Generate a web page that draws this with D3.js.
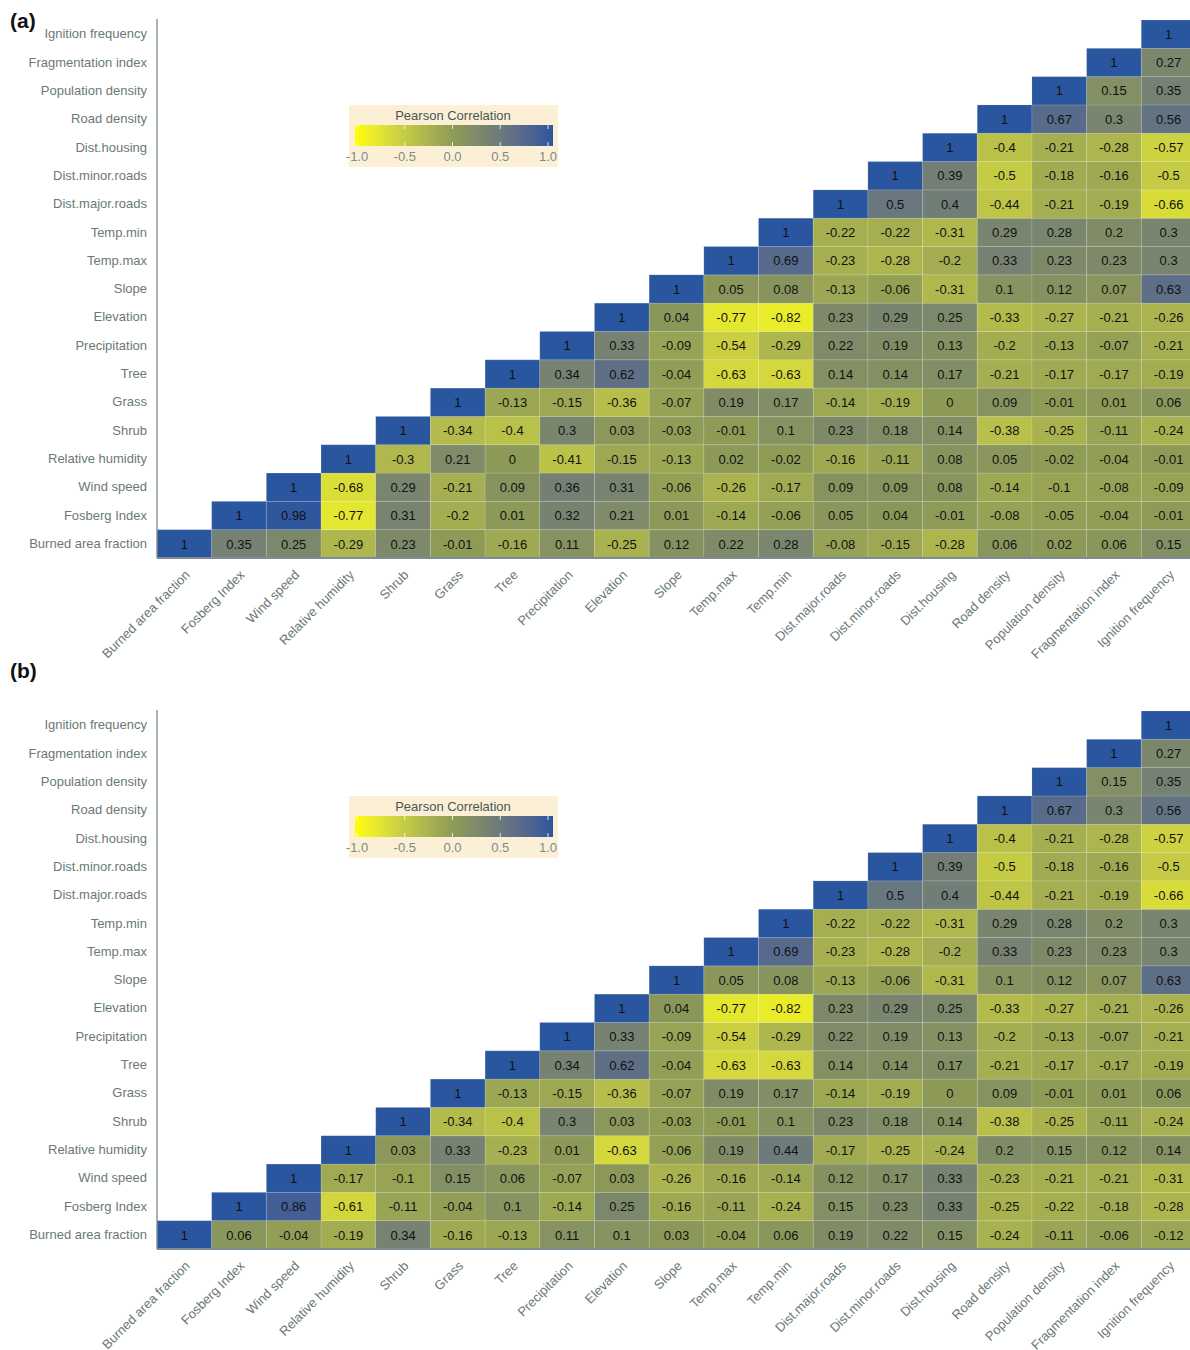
<!DOCTYPE html>
<html>
<head>
<meta charset="utf-8">
<script src="https://cdn.jsdelivr.net/npm/d3@7"></script>
<style>
  body { margin: 0; background: #fff; }
  text { font-family: "Liberation Sans", Arial, Helvetica, sans-serif; }
</style>
</head>
<body>
<div id="chart"></div>
<script>
// Sizes
const WIDTH = 1190;
const HEIGHT = 1350;
const GRID_LEFT = 157;
const GRID_RIGHT = 1196; // last column runs past the edge

// Variable names (bottom to top / left to right)
const variables = [
  "Burned area fraction", "Fosberg Index", "Wind speed", "Relative humidity",
  "Shrub", "Grass", "Tree", "Precipitation", "Elevation", "Slope",
  "Temp.max", "Temp.min", "Dist.major.roads", "Dist.minor.roads",
  "Dist.housing", "Road density", "Population density",
  "Fragmentation index", "Ignition frequency"
];

// Panel (a) rows that differ from (b); each row starts on the diagonal
const aBurned = [1, 0.35, 0.25, -0.29, 0.23, -0.01, -0.16, 0.11, -0.25, 0.12, 0.22, 0.28, -0.08, -0.15, -0.28, 0.06, 0.02, 0.06, 0.15];
const aFosberg = [1, 0.98, -0.77, 0.31, -0.2, 0.01, 0.32, 0.21, 0.01, -0.14, -0.06, 0.05, 0.04, -0.01, -0.08, -0.05, -0.04, -0.01];
const aWind = [1, -0.68, 0.29, -0.21, 0.09, 0.36, 0.31, -0.06, -0.26, -0.17, 0.09, 0.09, 0.08, -0.14, -0.1, -0.08, -0.09];
const aHumidity = [1, -0.3, 0.21, 0, -0.41, -0.15, -0.13, 0.02, -0.02, -0.16, -0.11, 0.08, 0.05, -0.02, -0.04, -0.01];

// Panel (b) rows that differ from (a)
const bBurned = [1, 0.06, -0.04, -0.19, 0.34, -0.16, -0.13, 0.11, 0.1, 0.03, -0.04, 0.06, 0.19, 0.22, 0.15, -0.24, -0.11, -0.06, -0.12];
const bFosberg = [1, 0.86, -0.61, -0.11, -0.04, 0.1, -0.14, 0.25, -0.16, -0.11, -0.24, 0.15, 0.23, 0.33, -0.25, -0.22, -0.18, -0.28];
const bWind = [1, -0.17, -0.1, 0.15, 0.06, -0.07, 0.03, -0.26, -0.16, -0.14, 0.12, 0.17, 0.33, -0.23, -0.21, -0.21, -0.31];
const bHumidity = [1, 0.03, 0.33, -0.23, 0.01, -0.63, -0.06, 0.19, 0.44, -0.17, -0.25, -0.24, 0.2, 0.15, 0.12, 0.14];

// Rows shared by both panels
const shrub = [1, -0.34, -0.4, 0.3, 0.03, -0.03, -0.01, 0.1, 0.23, 0.18, 0.14, -0.38, -0.25, -0.11, -0.24];
const grass = [1, -0.13, -0.15, -0.36, -0.07, 0.19, 0.17, -0.14, -0.19, 0, 0.09, -0.01, 0.01, 0.06];
const tree = [1, 0.34, 0.62, -0.04, -0.63, -0.63, 0.14, 0.14, 0.17, -0.21, -0.17, -0.17, -0.19];
const precipitation = [1, 0.33, -0.09, -0.54, -0.29, 0.22, 0.19, 0.13, -0.2, -0.13, -0.07, -0.21];
const elevation = [1, 0.04, -0.77, -0.82, 0.23, 0.29, 0.25, -0.33, -0.27, -0.21, -0.26];
const slope = [1, 0.05, 0.08, -0.13, -0.06, -0.31, 0.1, 0.12, 0.07, 0.63];
const tempMax = [1, 0.69, -0.23, -0.28, -0.2, 0.33, 0.23, 0.23, 0.3];
const tempMin = [1, -0.22, -0.22, -0.31, 0.29, 0.28, 0.2, 0.3];
const distMajor = [1, 0.5, 0.4, -0.44, -0.21, -0.19, -0.66];
const distMinor = [1, 0.39, -0.5, -0.18, -0.16, -0.5];
const distHousing = [1, -0.4, -0.21, -0.28, -0.57];
const roadDensity = [1, 0.67, 0.3, 0.56];
const popDensity = [1, 0.15, 0.35];
const fragIndex = [1, 0.27];
const ignition = [1];

const sharedRows = [shrub, grass, tree, precipitation, elevation, slope, tempMax, tempMin,
  distMajor, distMinor, distHousing, roadDensity, popDensity, fragIndex, ignition];

const legendTicks = [-1, -0.5, 0, 0.5, 1];
const legendLabels = ["-1.0", "-0.5", "0.0", "0.5", "1.0"];

// Colour scale
const color = d3.scaleLinear()
  .domain([-1, 0, 1])
  .range(["#ffff00", "#8d9a57", "#2a569f"])
  .interpolate(d3.interpolateLab);

const svg = d3.select("#chart")
  .append("svg")
  .attr("width", WIDTH)
  .attr("height", HEIGHT);

// Gradient for legend
const grad = svg.append("defs")
  .append("linearGradient")
  .attr("id", "corrgrad");
d3.range(0, 1.0001, 0.05).forEach((t) => {
  grad.append("stop")
    .attr("offset", t * 100 + "%")
    .attr("stop-color", color(-1 + 2 * t));
});

/* Turns row arrays into cell records */
function buildCells(rows) {
  const cells = [];
  rows.forEach((row, r) => {
    row.forEach((v, i) => {
      cells.push({ x: variables[r + i], y: variables[r], value: v });
    });
  });
  return cells;
}

/* Draws one panel */
function drawPanel(rows, top, bottom, label, labelY) {
  const g = svg.append("g");

  const x = d3.scaleBand().domain(variables).range([GRID_LEFT, GRID_RIGHT]);
  const y = d3.scaleBand().domain(variables).range([bottom, top]);

  // Tiles
  const cells = buildCells(rows);
  g.selectAll("rect.cell")
    .data(cells)
    .enter()
    .append("rect")
    .attr("class", "cell")
    .attr("x", (d) => x(d.x))
    .attr("y", (d) => y(d.y))
    .attr("width", x.bandwidth())
    .attr("height", y.bandwidth())
    .attr("fill", (d) => color(d.value))
    .attr("stroke", "rgba(255,255,255,0.12)")
    .attr("stroke-width", 1);

  g.selectAll("text.val")
    .data(cells)
    .enter()
    .append("text")
    .attr("class", "val")
    .attr("x", (d) => x(d.x) + x.bandwidth() / 2)
    .attr("y", (d) => y(d.y) + y.bandwidth() / 2)
    .attr("dy", "0.36em")
    .attr("text-anchor", "middle")
    .attr("font-size", 13)
    .attr("fill", "#111")
    .text((d) => d.value);

  // Y axis
  const yAxis = g.append("g")
    .attr("transform", `translate(${GRID_LEFT},0)`)
    .call(d3.axisLeft(y).tickSize(0).tickPadding(10));
  yAxis.select(".domain").attr("stroke", "#7f8a8a").attr("stroke-width", 1.3)
    .attr("d", `M0,${top - 1}V${bottom}`);
  yAxis.selectAll("text")
    .attr("font-size", 13)
    .attr("fill", "#6b7878")
    .attr("font-family", "Liberation Sans, Arial, sans-serif");

  // X axis
  const xAxis = g.append("g")
    .attr("transform", `translate(0,${bottom})`)
    .call(d3.axisBottom(x).tickSize(0));
  xAxis.select(".domain").attr("stroke", "#7d8c95").attr("stroke-width", 2)
    .attr("d", `M${GRID_LEFT},0H${WIDTH}`);
  xAxis.selectAll("text")
    .attr("font-size", 13)
    .attr("fill", "#6b7878")
    .attr("font-family", "Liberation Sans, Arial, sans-serif")
    .attr("text-anchor", "end")
    .attr("x", -8)
    .attr("y", 17)
    .attr("dy", 0)
    .attr("transform", "rotate(-45)");

  // Legend
  const lx = 349;
  const ly = top + 85;
  const leg = g.append("g");
  leg.append("rect")
    .attr("x", lx)
    .attr("y", ly)
    .attr("width", 209)
    .attr("height", 62)
    .attr("fill", "#fbf0d5");
  leg.append("text")
    .attr("x", lx + 104)
    .attr("y", ly + 15)
    .attr("text-anchor", "middle")
    .attr("font-size", 13)
    .attr("fill", "#4a5555")
    .text("Pearson Correlation");
  leg.append("rect")
    .attr("x", 355)
    .attr("y", ly + 20)
    .attr("width", 198)
    .attr("height", 21)
    .attr("fill", "url(#corrgrad)");
  const ls = d3.scaleLinear().domain([-1, 1]).range([357, 548]);
  legendTicks.forEach((t, i) => {
    leg.append("line")
      .attr("x1", ls(t)).attr("x2", ls(t))
      .attr("y1", ly + 20).attr("y2", ly + 24)
      .attr("stroke", "#fff").attr("stroke-opacity", 0.8);
    leg.append("line")
      .attr("x1", ls(t)).attr("x2", ls(t))
      .attr("y1", ly + 37).attr("y2", ly + 41)
      .attr("stroke", "#fff").attr("stroke-opacity", 0.8);
    leg.append("text")
      .attr("x", ls(t))
      .attr("y", ly + 56)
      .attr("text-anchor", "middle")
      .attr("font-size", 13)
      .attr("fill", "#7f8a8a")
      .text(legendLabels[i]);
  });

  // Panel label
  svg.append("text")
    .attr("x", 10)
    .attr("y", labelY)
    .attr("font-size", 21)
    .attr("font-weight", "bold")
    .attr("fill", "#111")
    .text(label);
}

drawPanel([aBurned, aFosberg, aWind, aHumidity].concat(sharedRows), 20, 558, "(a)", 28);
drawPanel([bBurned, bFosberg, bWind, bHumidity].concat(sharedRows), 711, 1249, "(b)", 678);
</script>
</body>
</html>
